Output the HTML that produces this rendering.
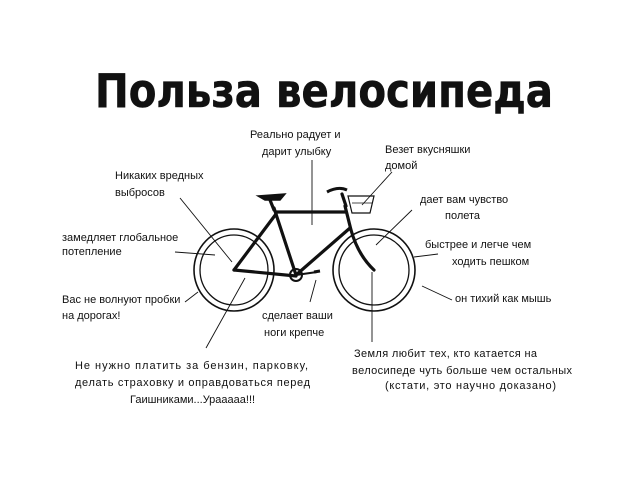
<!DOCTYPE html>
<html><head><meta charset="utf-8"><style>
html,body{margin:0;padding:0;background:#fff}
svg{display:block}
text{font-family:"Liberation Sans","DejaVu Sans",sans-serif;fill:#111}
.t{font-size:11px}
</style></head><body>
<svg width="640" height="480" viewBox="0 0 640 480" xmlns="http://www.w3.org/2000/svg">
<text x="95" y="107" font-size="46" font-weight="bold" style="font-family:'DejaVu Sans',sans-serif" textLength="458" lengthAdjust="spacingAndGlyphs" stroke="#111" stroke-width="0.6">Польза велосипеда</text>

<g fill="none" stroke="#111">
 <ellipse cx="234" cy="270" rx="40" ry="41" stroke-width="1.6"/>
 <ellipse cx="234" cy="270" rx="34" ry="35" stroke-width="1.3"/>
 <ellipse cx="374" cy="270" rx="41" ry="41" stroke-width="1.6"/>
 <ellipse cx="374" cy="270" rx="35" ry="35" stroke-width="1.3"/>
 <g stroke-width="3.2" stroke-linecap="round">
  <line x1="274" y1="208" x2="296" y2="275"/>
  <line x1="276" y1="212" x2="346" y2="212"/>
  <line x1="350" y1="228" x2="296" y2="275"/>
  <line x1="276" y1="214" x2="234" y2="270"/>
  <line x1="234" y1="270" x2="296" y2="276"/>
  <line x1="345" y1="206" x2="351" y2="230"/>
  <path d="M351 230 Q358 255 374 270"/>
  <line x1="270" y1="200" x2="274" y2="210"/>
  <line x1="346" y1="206" x2="342" y2="194"/>
 </g>
 <path d="M258 196 L285 194 L280 200 L265 200 Z" fill="#111" stroke-width="1.5"/>
 <path d="M327 192 Q338 186 347 190" stroke-width="3"/>
 <path d="M348 196 L374 196 L370 213 L352 213 Z" stroke-width="1.2"/>
 <line x1="352" y1="203" x2="372" y2="203" stroke-width="0.8"/>
 <circle cx="296" cy="275" r="6" stroke-width="2"/>
 <line x1="296" y1="275" x2="317" y2="272" stroke-width="2"/>
 <line x1="314" y1="272" x2="320" y2="271" stroke-width="3"/>
 <g stroke-width="0.9">
  <line x1="312" y1="160" x2="312" y2="225"/>
  <line x1="392" y1="172" x2="362" y2="205"/>
  <line x1="180" y1="198" x2="232" y2="262"/>
  <line x1="412" y1="210" x2="376" y2="245"/>
  <line x1="175" y1="252" x2="215" y2="255"/>
  <line x1="438" y1="254" x2="414" y2="257"/>
  <line x1="185" y1="302" x2="198" y2="292"/>
  <line x1="452" y1="300" x2="422" y2="286"/>
  <line x1="310" y1="302" x2="316" y2="280"/>
  <line x1="206" y1="348" x2="245" y2="278"/>
  <line x1="372" y1="342" x2="372" y2="272"/>
 </g>
</g>

<g class="t">
<text x="250" y="138">Реально радует и</text>
<text x="262" y="155">дарит улыбку</text>
<text x="385" y="153">Везет вкусняшки</text>
<text x="385" y="169">домой</text>
<text x="115" y="179">Никаких вредных</text>
<text x="115" y="196">выбросов</text>
<text x="420" y="203">дает вам чувство</text>
<text x="445" y="219">полета</text>
<text x="62" y="241">замедляет глобальное</text>
<text x="62" y="255">потепление</text>
<text x="425" y="248">быстрее и легче чем</text>
<text x="452" y="265">ходить пешком</text>
<text x="62" y="303">Вас не волнуют пробки</text>
<text x="62" y="319">на дорогах!</text>
<text x="455" y="302">он тихий как мышь</text>
<text x="262" y="319">сделает ваши</text>
<text x="264" y="336">ноги крепче</text>
<text x="75" y="369" textLength="233">Не нужно платить за бензин, парковку,</text>
<text x="75" y="386" textLength="235">делать страховку и оправдоваться перед</text>
<text x="130" y="403">Гаишниками...Урааааа!!!</text>
<text x="354" y="357" textLength="183">Земля любит тех, кто катается на</text>
<text x="352" y="374" textLength="220">велосипеде чуть больше чем остальных</text>
<text x="385" y="389" textLength="171">(кстати, это научно доказано)</text>
</g>
</svg>
</body></html>
